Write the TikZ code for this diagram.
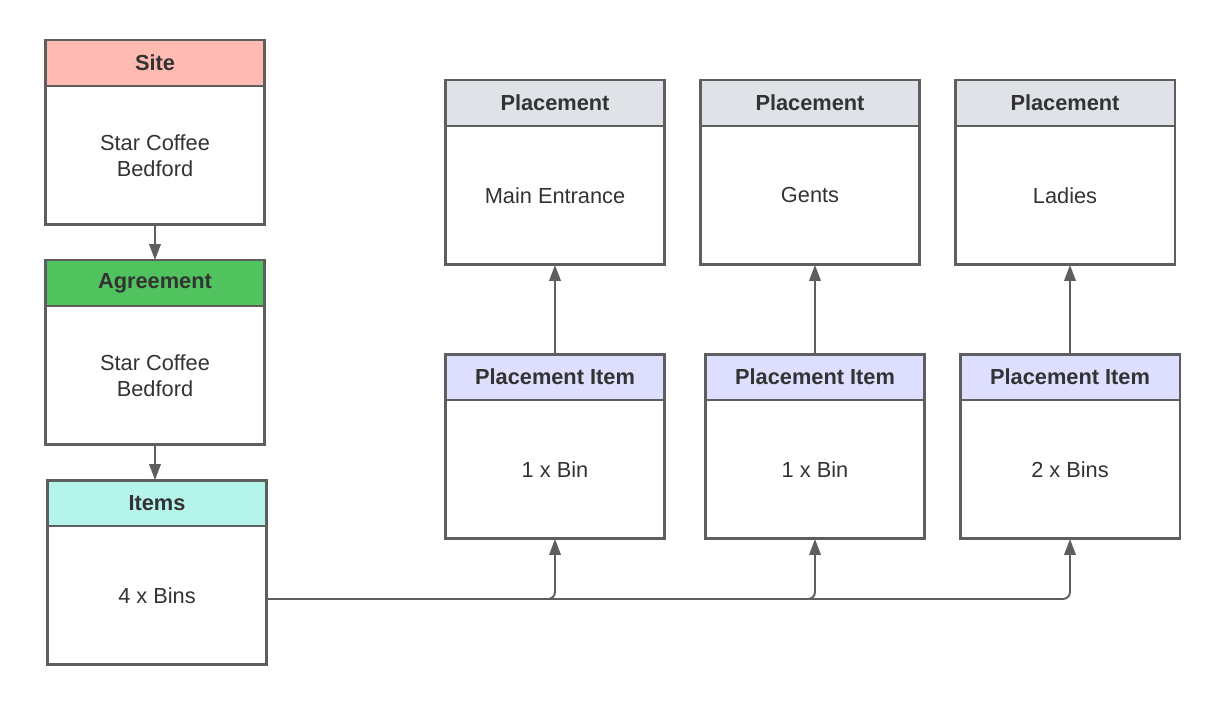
\documentclass[tikz,border=0pt]{standalone}
\usepackage{fontspec}
\setmainfont{Liberation Sans}
\usetikzlibrary{positioning,arrows.meta}

\definecolor{edgegray}{HTML}{5E5E5E}
\definecolor{textgray}{HTML}{333333}
\definecolor{sitered}{HTML}{FFBBB1}
\definecolor{agreegreen}{HTML}{51C35E}
\definecolor{itemcyan}{HTML}{B5F4EA}
\definecolor{placegray}{HTML}{DFE3E8}
\definecolor{pitemblue}{HTML}{DEDEFF}

\tikzset{
  header/.style={draw=edgegray, line width=1.7pt, minimum width=4.4cm, minimum height=0.92cm,
    inner sep=0pt, outer sep=0pt, text=textgray, font=\fontsize{12.4}{14.8}\selectfont\bfseries},
  body/.style={draw=edgegray, line width=1.7pt, fill=white, minimum width=4.4cm, minimum height=2.78cm,
    inner sep=0pt, outer sep=0pt, text=textgray, align=center, font=\fontsize{12.4}{14.8}\selectfont},
  link/.style={draw=edgegray, line width=1.1pt, -{Triangle[length=9pt,width=6.5pt]}}
}

\begin{document}
\begin{tikzpicture}[x=0.02cm, y=-0.02cm]
\useasboundingbox (0,0) rectangle (1220,706);

% Left column
\node[header, fill=sitered] (site-h) at (155,63) {Site};
\node[body, below=0pt of site-h] (site) {Star Coffee\\Bedford};
\node[header, fill=agreegreen] (agree-h) at (155,283) {Agreement};
\node[body, below=0pt of agree-h] (agree) {Star Coffee\\Bedford};
\node[header, fill=itemcyan] (items-h) at (157,503) {Items};
\node[body, below=0pt of items-h] (items) {4 x Bins};

% Placements
\node[header, fill=placegray] (place1-h) at (555,103) {Placement};
\node[body, below=0pt of place1-h] (place1) {Main Entrance};
\node[header, fill=placegray] (place2-h) at (810,103) {Placement};
\node[body, below=0pt of place2-h] (place2) {Gents};
\node[header, fill=placegray] (place3-h) at (1065,103) {Placement};
\node[body, below=0pt of place3-h] (place3) {Ladies};

% Placement items
\node[header, fill=pitemblue] (pitem1-h) at (555,377) {Placement Item};
\node[body, below=0pt of pitem1-h] (pitem1) {1 x Bin};
\node[header, fill=pitemblue] (pitem2-h) at (815,377) {Placement Item};
\node[body, below=0pt of pitem2-h] (pitem2) {1 x Bin};
\node[header, fill=pitemblue] (pitem3-h) at (1070,377) {Placement Item};
\node[body, below=0pt of pitem3-h] (pitem3) {2 x Bins};

% Connectors
\draw[link] (site.south) -- (agree-h.north);
\draw[link] (agree.south) -- (agree.south |- items-h.north);
\draw[link] (pitem1-h.north) -- (pitem1-h.north |- place1.south);
\draw[link] (pitem2-h.north) -- (pitem2-h.north |- place2.south);
\draw[link] (pitem3-h.north) -- (pitem3-h.north |- place3.south);
\draw[link, rounded corners=4] ([yshift=-2]items.east) -| (pitem1.south);
\draw[link, rounded corners=4] ([yshift=-2]items.east) -| (pitem2.south);
\draw[link, rounded corners=4] ([yshift=-2]items.east) -| (pitem3.south);
\end{tikzpicture}
\end{document}
